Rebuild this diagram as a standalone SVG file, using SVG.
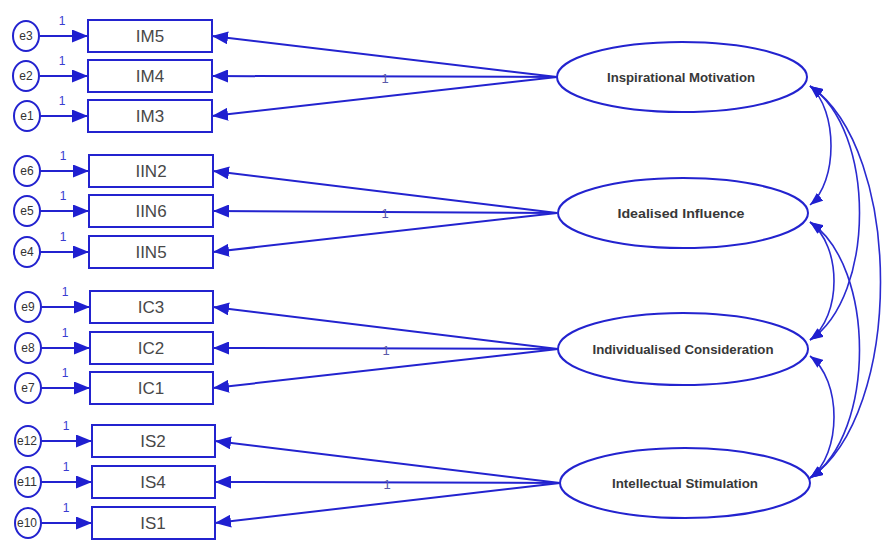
<svg xmlns="http://www.w3.org/2000/svg" width="882" height="542" viewBox="0 0 882 542">
<style>
.bx{fill:#fff;stroke:#2323cf;stroke-width:2}
.el{fill:#fff;stroke:#2323cf;stroke-width:2}
.ln{fill:none;stroke:#2323cf;stroke-width:2}
.cv{fill:none;stroke:#2a2ad0;stroke-width:1.6}
.bt{font-family:"Liberation Sans",Arial,sans-serif;font-size:17px;fill:#484848;text-anchor:middle}
.lt{font-family:"Liberation Sans",Arial,sans-serif;font-size:13px;font-weight:bold;fill:#383838;text-anchor:middle}
.et{font-family:"Liberation Sans",Arial,sans-serif;font-size:12px;fill:#333;text-anchor:middle}
.one{font-family:"Liberation Sans",Arial,sans-serif;font-size:12px;fill:#3a3ad0;text-anchor:middle}
.mid{font-family:"Liberation Sans",Arial,sans-serif;font-size:13px;fill:#5a5aa8;text-anchor:middle}
</style>
<defs>
<marker id="ah" markerUnits="userSpaceOnUse" markerWidth="17" markerHeight="13" refX="16" refY="6.5" orient="auto"><path d="M0,0 L16,6.5 L0,13 z" fill="#1f1fd0"/></marker>
<marker id="ch" markerUnits="userSpaceOnUse" markerWidth="14" markerHeight="10" refX="13" refY="5" orient="auto-start-reverse"><path d="M0,0 L13,5 L0,10 z" fill="#1f1fd0"/></marker>
</defs>
<rect width="882" height="542" fill="#fff"/>
<g id="connectors">
<path class="ln" marker-end="url(#ah)" d="M40,36 L88,36"/>
<path class="ln" marker-end="url(#ah)" d="M40,76 L88,76"/>
<path class="ln" marker-end="url(#ah)" d="M40,116 L88,116"/>
<path class="ln" marker-end="url(#ah)" d="M40,171 L89,171"/>
<path class="ln" marker-end="url(#ah)" d="M40,211 L89,211"/>
<path class="ln" marker-end="url(#ah)" d="M40,252 L89,252"/>
<path class="ln" marker-end="url(#ah)" d="M41,307 L90,307"/>
<path class="ln" marker-end="url(#ah)" d="M41,348 L90,348"/>
<path class="ln" marker-end="url(#ah)" d="M41,388 L90,388"/>
<path class="ln" marker-end="url(#ah)" d="M41,441 L92,441"/>
<path class="ln" marker-end="url(#ah)" d="M41,482 L92,482"/>
<path class="ln" marker-end="url(#ah)" d="M41,523 L92,523"/>
<path class="ln" marker-end="url(#ah)" d="M557,77 L212,36"/>
<path class="ln" marker-end="url(#ah)" d="M557,77 L212,76"/>
<path class="ln" marker-end="url(#ah)" d="M557,77 L212,116"/>
<path class="ln" marker-end="url(#ah)" d="M557,213 L213,171"/>
<path class="ln" marker-end="url(#ah)" d="M557,213 L213,211"/>
<path class="ln" marker-end="url(#ah)" d="M557,213 L213,252"/>
<path class="ln" marker-end="url(#ah)" d="M558,349 L213,307"/>
<path class="ln" marker-end="url(#ah)" d="M558,349 L213,348"/>
<path class="ln" marker-end="url(#ah)" d="M558,349 L213,388"/>
<path class="ln" marker-end="url(#ah)" d="M560,483 L215,441"/>
<path class="ln" marker-end="url(#ah)" d="M560,483 L215,482"/>
<path class="ln" marker-end="url(#ah)" d="M560,483 L215,523"/>
<path class="cv" marker-start="url(#ch)" marker-end="url(#ch)" d="M810,86 C838,110 838,182 810,205"/>
<path class="cv" marker-start="url(#ch)" marker-end="url(#ch)" d="M810,86 C876,130 876,296 810,340"/>
<path class="cv" marker-start="url(#ch)" marker-end="url(#ch)" d="M810,86 C904,150 904,414 810,478"/>
<path class="cv" marker-start="url(#ch)" marker-end="url(#ch)" d="M810,222 C842,246 842,316 810,340"/>
<path class="cv" marker-start="url(#ch)" marker-end="url(#ch)" d="M810,222 C876,266 876,434 810,478"/>
<path class="cv" marker-start="url(#ch)" marker-end="url(#ch)" d="M810,356 C842,380 842,454 810,478"/>
<text class="one" x="62" y="25">1</text>
<text class="one" x="62" y="65">1</text>
<text class="one" x="62" y="105">1</text>
<text class="one" x="63" y="160">1</text>
<text class="one" x="63" y="200">1</text>
<text class="one" x="63" y="241">1</text>
<text class="one" x="65" y="296">1</text>
<text class="one" x="65" y="337">1</text>
<text class="one" x="65" y="377">1</text>
<text class="one" x="66" y="430">1</text>
<text class="one" x="66" y="471">1</text>
<text class="one" x="66" y="512">1</text>
<text class="mid" x="385" y="83">1</text>
<text class="mid" x="385" y="218">1</text>
<text class="mid" x="386" y="355">1</text>
<text class="mid" x="387" y="489">1</text>
</g>
<g id="e3"><ellipse class="el" cx="26" cy="36" rx="13" ry="15"/><text class="et" x="26" y="40">e3</text></g>
<g id="e2"><ellipse class="el" cx="26" cy="76" rx="13" ry="15"/><text class="et" x="26" y="80">e2</text></g>
<g id="e1"><ellipse class="el" cx="27" cy="116" rx="13" ry="15"/><text class="et" x="27" y="120">e1</text></g>
<g id="e6"><ellipse class="el" cx="27" cy="171" rx="13" ry="15"/><text class="et" x="27" y="175">e6</text></g>
<g id="e5"><ellipse class="el" cx="27" cy="211" rx="13" ry="15"/><text class="et" x="27" y="215">e5</text></g>
<g id="e4"><ellipse class="el" cx="27" cy="252" rx="13" ry="15"/><text class="et" x="27" y="256">e4</text></g>
<g id="e9"><ellipse class="el" cx="28" cy="307" rx="13" ry="15"/><text class="et" x="28" y="311">e9</text></g>
<g id="e8"><ellipse class="el" cx="28" cy="348" rx="13" ry="15"/><text class="et" x="28" y="352">e8</text></g>
<g id="e7"><ellipse class="el" cx="28" cy="388" rx="13" ry="15"/><text class="et" x="28" y="392">e7</text></g>
<g id="e12"><ellipse class="el" cx="28" cy="441" rx="13" ry="15"/><text class="et" x="27" y="445" textLength="20" lengthAdjust="spacingAndGlyphs">e12</text></g>
<g id="e11"><ellipse class="el" cx="28" cy="482" rx="13" ry="15"/><text class="et" x="27" y="486" textLength="20" lengthAdjust="spacingAndGlyphs">e11</text></g>
<g id="e10"><ellipse class="el" cx="28" cy="523" rx="13" ry="15"/><text class="et" x="27" y="527" textLength="20" lengthAdjust="spacingAndGlyphs">e10</text></g>
<g id="IM5"><rect class="bx" x="88" y="20" width="124" height="32"/><text class="bt" x="150" y="42">IM5</text></g>
<g id="IM4"><rect class="bx" x="88" y="60" width="124" height="32"/><text class="bt" x="150" y="82">IM4</text></g>
<g id="IM3"><rect class="bx" x="88" y="100" width="124" height="32"/><text class="bt" x="150" y="122">IM3</text></g>
<g id="IIN2"><rect class="bx" x="89" y="155" width="124" height="32"/><text class="bt" x="151" y="177">IIN2</text></g>
<g id="IIN6"><rect class="bx" x="89" y="195" width="124" height="32"/><text class="bt" x="151" y="217">IIN6</text></g>
<g id="IIN5"><rect class="bx" x="89" y="236" width="124" height="32"/><text class="bt" x="151" y="258">IIN5</text></g>
<g id="IC3"><rect class="bx" x="90" y="291" width="123" height="32"/><text class="bt" x="151" y="313">IC3</text></g>
<g id="IC2"><rect class="bx" x="90" y="332" width="123" height="32"/><text class="bt" x="151" y="354">IC2</text></g>
<g id="IC1"><rect class="bx" x="90" y="372" width="123" height="32"/><text class="bt" x="151" y="394">IC1</text></g>
<g id="IS2"><rect class="bx" x="92" y="425" width="123" height="32"/><text class="bt" x="153" y="447">IS2</text></g>
<g id="IS4"><rect class="bx" x="92" y="466" width="123" height="32"/><text class="bt" x="153" y="488">IS4</text></g>
<g id="IS1"><rect class="bx" x="92" y="507" width="123" height="32"/><text class="bt" x="153" y="529">IS1</text></g>
<g id="InspirationalMotivation"><ellipse class="el" cx="682" cy="77" rx="125" ry="35"/><text class="lt" x="681" y="82" textLength="148" lengthAdjust="spacingAndGlyphs">Inspirational Motivation</text></g>
<g id="IdealisedInfluence"><ellipse class="el" cx="683" cy="213" rx="125" ry="35"/><text class="lt" x="681" y="218" textLength="127" lengthAdjust="spacingAndGlyphs">Idealised Influence</text></g>
<g id="IndividualisedConsideration"><ellipse class="el" cx="683" cy="349" rx="125" ry="36"/><text class="lt" x="683" y="354" textLength="181" lengthAdjust="spacingAndGlyphs">Individualised Consideration</text></g>
<g id="IntellectualStimulation"><ellipse class="el" cx="685" cy="483" rx="125" ry="35"/><text class="lt" x="685" y="488" textLength="146" lengthAdjust="spacingAndGlyphs">Intellectual Stimulation</text></g>
</svg>
